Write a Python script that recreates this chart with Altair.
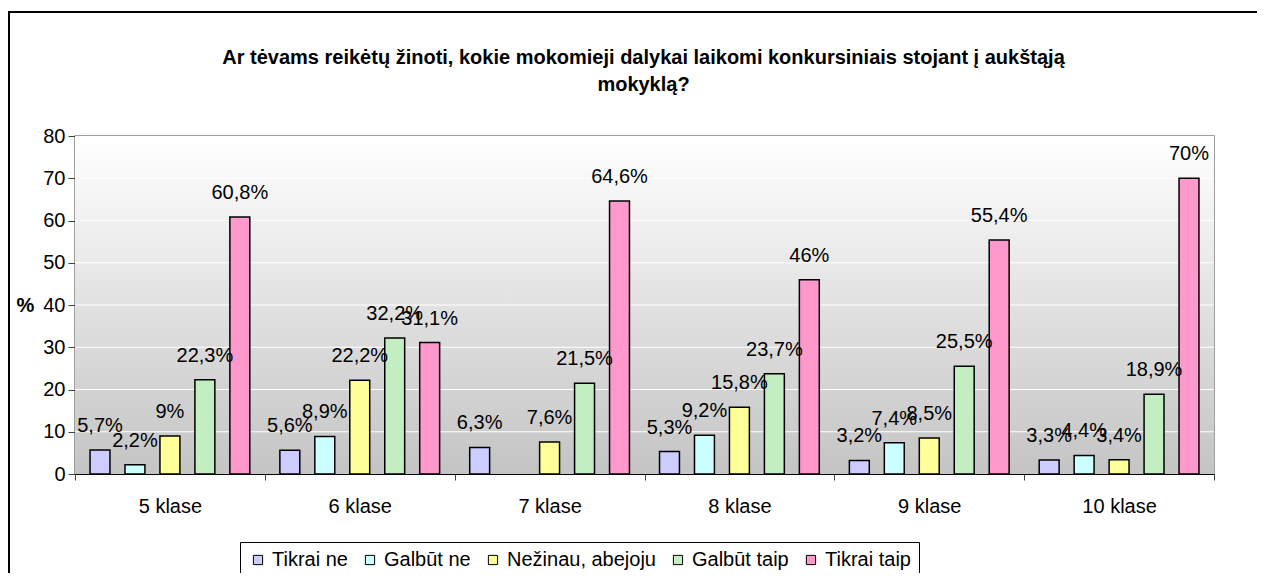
import altair as alt
import pandas as pd

classes = ["5 klase", "6 klase", "7 klase", "8 klase", "9 klase", "10 klase"]
series = ["Tikrai ne", "Galbūt ne", "Nežinau, abejoju", "Galbūt taip", "Tikrai taip"]
tikrai_ne = [5.7, 5.6, 6.3, 5.3, 3.2, 3.3]
galbut_ne = [2.2, 8.9, None, 9.2, 7.4, 4.4]
nezinau = [9, 22.2, 7.6, 15.8, 8.5, 3.4]
galbut_taip = [22.3, 32.2, 21.5, 23.7, 25.5, 18.9]
tikrai_taip = [60.8, 31.1, 64.6, 46, 55.4, 70]
colors = ["#CCCCFF", "#CCFFFF", "#FFFF99", "#C2EEC2", "#FF99CC"]
y_ticks = [0, 10, 20, 30, 40, 50, 60, 70, 80]
title_text = ("Ar tėvams reikėtų žinoti, kokie mokomieji dalykai laikomi konkursiniais stojant į aukštąją"
              "\nmokyklą?")

rows = []
for s, vals in zip(series, [tikrai_ne, galbut_ne, nezinau, galbut_taip, tikrai_taip]):
    for c, v in zip(classes, vals):
        if v is None:
            continue
        rows.append({"klase": c, "series": s, "value": v,
                     "label": f"{v:g}".replace(".", ",") + "%"})
df = pd.DataFrame(rows)

W, H = 1139, 338
FONT = "Liberation Sans"
FS = 20

y_scale = alt.Scale(domain=[0, 80], nice=False)
y_axis = alt.Axis(values=y_ticks, title="%", titleAngle=0, titleAlign="left",
                  titleBaseline="middle", titleX=-59, titleY=H / 2,
                  titleFontSize=FS, titleFontWeight="bold", labelFontSize=FS,
                  tickSize=7, labelPadding=3, grid=False,
                  domainColor="#404040", tickColor="#404040", labelColor="black",
                  titleColor="black")
y_enc = alt.Y("value:Q", scale=y_scale, axis=y_axis)

x_enc = alt.X("klase:N", sort=classes,
              scale=alt.Scale(paddingInner=0, paddingOuter=0),
              axis=alt.Axis(title=None, labelAngle=0, labelFontSize=FS,
                            tickBand="extent", tickSize=6, labelPadding=16,
                            domainColor="black", tickColor="#404040",
                            labelColor="black"))
xo_enc = alt.XOffset("series:N", sort=series,
                     scale=alt.Scale(paddingInner=0.43, paddingOuter=0.43))

one = pd.DataFrame({"k": [0]})

bg = alt.Chart(one).mark_rect(
    color=alt.Gradient(gradient="linear",
                       stops=[alt.GradientStop(color="#FFFFFF", offset=0),
                              alt.GradientStop(color="#C4C4C4", offset=1)],
                       x1=0, x2=0, y1=0, y2=1)
).encode(x=alt.value(0), x2=alt.value(W), y=alt.value(0), y2=alt.value(H))

frame = alt.Chart(one).mark_rect(
    filled=False, stroke="black", strokeWidth=2
).encode(x=alt.value(-66), x2=alt.value(W + 80), y=alt.value(-124), y2=alt.value(H + 140))

title = alt.Chart(one).mark_text(
    text=title_text, lineBreak="\n", lineHeight=27, fontSize=20,
    fontWeight="bold", font=FONT, color="black", align="center", baseline="middle"
).encode(x=alt.value(W / 2 - 1), y=alt.value(-78))

grid = alt.Chart(pd.DataFrame({"value": y_ticks[1:-1]})).mark_rule(
    color="white", strokeWidth=1
).encode(y=y_enc)

bars = alt.Chart(df).mark_bar(stroke="black", strokeWidth=1.5).encode(
    x=x_enc, xOffset=xo_enc, y=y_enc,
    color=alt.Color("series:N", sort=series,
                    scale=alt.Scale(domain=series, range=colors),
                    legend=alt.Legend(title=None, orient="none", legendX=165,
                                      legendY=406, direction="horizontal",
                                      symbolType="square", symbolSize=85,
                                      symbolStrokeColor="black",
                                      symbolStrokeWidth=1, labelFontSize=FS,
                                      labelColor="black", columnPadding=12,
                                      labelOffset=4, padding=8,
                                      strokeColor="black", fillColor="white"))
)

labels = alt.Chart(df).mark_text(dy=-24, fontSize=FS, baseline="middle",
                                 color="black", font=FONT).encode(
    x=x_enc, xOffset=xo_enc, y=y_enc, text="label:N"
)

chart = alt.layer(bg, frame, title, grid, bars, labels).properties(
    width=W, height=H,
    autosize=alt.AutoSizeParams(type="none"),
    padding={"left": 67, "top": 128, "right": 43, "bottom": 99},
).configure(font=FONT).configure_view(stroke="#808080", strokeWidth=1.5)

chart.save("out.html", embed_options={"renderer": "svg", "actions": False})
